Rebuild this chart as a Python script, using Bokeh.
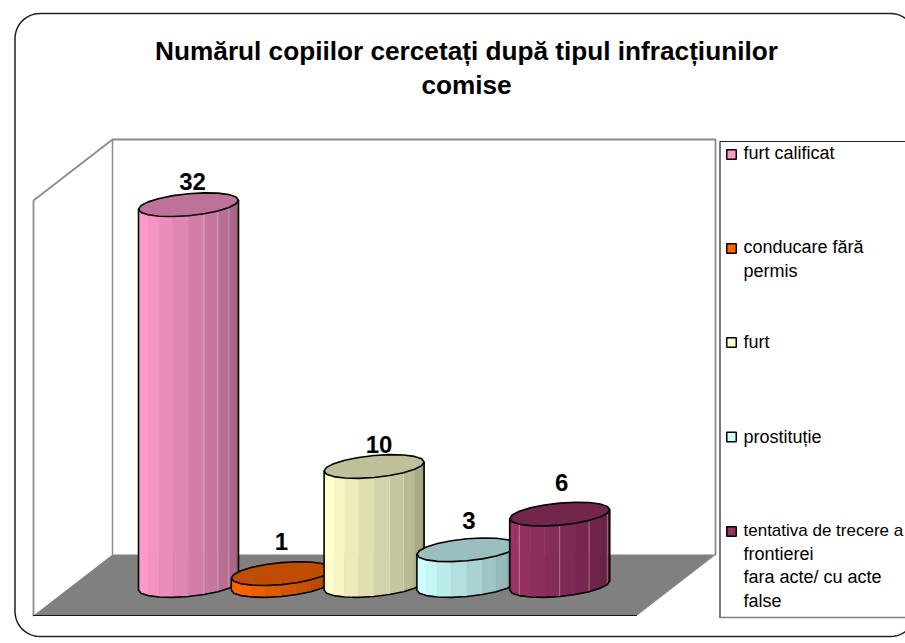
import math
from bokeh.plotting import figure
from bokeh.embed import file_html
from bokeh.resources import INLINE
from bokeh.core.properties import value

# ---- data ----
categories = ["furt calificat", "conducare fără permis", "furt", "prostituție",
              "tentativa de trecere a frontierei fara acte/ cu acte false"]
counts = [32, 1, 10, 3, 6]
count_labels = ["32", "1", "10", "3", "6"]
colors = ["#FF99CC", "#FF6600", "#FFFFCC", "#CCFFFF", "#993366"]
title_lines = ["Numărul copiilor cercetați după tipul infracțiunilor", "comise"]
legend_lines = [["furt calificat"], ["conducare fără", "permis"], ["furt"], ["prostituție"],
                ["tentativa de trecere a", "frontierei", "fara acte/ cu acte", "false"]]

# ---- layout: image pixels per data unit ----
W, H = 905, 643
PX_PER_CAT, PX_PER_VAL = 92.8, 11.9
X0_PX, Y0_PX = 188.0, 585.0        # pixel of category 0 / value 0
RX, RY, TILT = 50.0, 11.0, 4.5     # cylinder ellipse radii, in pixels
NSEG = 10
TXT = 0.36                         # svg text sits this many font sizes below its anchor
highlight_facets = [[6, 7, 8], [], [2, 6, 7], [], [2, 5, 7, 9]]


def X(px):
    return (px - X0_PX) / PX_PER_CAT


def Y(py):
    return (Y0_PX - py) / PX_PER_VAL


p = figure(width=W, height=H, output_backend="svg", toolbar_location=None,
           x_range=(X(0), X(W)), y_range=(Y(H), Y(0)),
           x_axis_type=None, y_axis_type=None, min_border=0,
           background_fill_color="white", border_fill_color="white")
p.outline_line_color = None
p.grid.visible = False

FONT = value("Liberation Sans")


def pline(xs, ys, color, width=1.0):
    p.line([X(a) for a in xs], [Y(b) for b in ys], line_color=color, line_width=width,
           line_join="round", line_cap="round")


def ppoly(xs, ys, fill):
    p.patch([X(a) for a in xs], [Y(b) for b in ys], fill_color=fill, line_color=None)


# ---- rounded frame ----
fl, ft, fr, fb, rad = 14.5, 13.0, 915.0, 636.0, 25.0


def arc(cx, cy, a0, a1, n=12):
    return [(cx + rad * math.cos(a0 + (a1 - a0) * k / n), cy - rad * math.sin(a0 + (a1 - a0) * k / n))
            for k in range(n + 1)]


pts = (arc(fl + rad, ft + rad, math.pi, math.pi / 2) + arc(fr - rad, ft + rad, math.pi / 2, 0)
       + arc(fr - rad, fb - rad, 0, -math.pi / 2) + arc(fl + rad, fb - rad, -math.pi / 2, -math.pi))
pts.append(pts[0])
pline([a for a, _ in pts], [b for _, b in pts], "#202020", 1.5)

# ---- walls and floor ----
WL, WB, WT, WR = 33.0, 615.0, 200.0, 112.0
BB, BT, BR, FR = 554.0, 139.0, 715.0, 636.0
ppoly([WL, WR, BR, FR], [WB, BB, BB, WB], "#808080")
pline([WL, WL, WR, BR, BR], [WB, WT, BT, BT, BB], "#8C8C8C", 1.8)
pline([WR, WR], [BT, BB], "#8C8C8C", 1.5)
pline([BR, FR], [BB, WB], "#8C8C8C", 1.0)
pline([WL, FR], [WB, WB], "#1A1A1A", 1.2)


# ---- cylinders ----
def shade(hexcol, f):
    r, g, b = [int(hexcol[k:k + 2], 16) for k in (1, 3, 5)]
    return "#%02X%02X%02X" % (int(r * f), int(g * f), int(b * f))


def rim(i, v, t):
    """Point of the rim at angle t (category, value coordinates)."""
    return (i + RX * math.cos(t) / PX_PER_CAT,
            v + (RY * math.sin(t) + TILT * math.cos(t)) / PX_PER_VAL)


for i, (v, c) in enumerate(zip(counts, colors)):
    ang = [math.pi + k * math.pi / NSEG for k in range(NSEG + 1)]   # front half, left to right
    sx, sy, sc = [], [], []
    for k in range(NSEG):
        a, b = rim(i, 0, ang[k]), rim(i, 0, ang[k + 1])
        at, bt = rim(i, v, ang[k]), rim(i, v, ang[k + 1])
        sx.append([a[0], b[0], bt[0], at[0]])
        sy.append([a[1], b[1], bt[1], at[1]])
        sc.append(shade(c, 1.0 - 0.38 * (max(k - 1, 0) / (NSEG - 2)) ** 1.15))
    p.patches(sx, sy, fill_color=sc, line_color=sc, line_width=0.6)
    for k in highlight_facets[i]:
        a, at = rim(i, 0, ang[k]), rim(i, v, ang[k])
        p.line([a[0], at[0]], [a[1], at[1]], line_color="white", line_alpha=0.35, line_width=1)
    full = [2 * math.pi * k / (2 * NSEG) for k in range(2 * NSEG)]
    top = [rim(i, v, t) for t in full]
    p.patch([q[0] for q in top], [q[1] for q in top], fill_color=shade(c, 0.75),
            line_color="black", line_width=1.6, line_join="round")
    low = [rim(i, 0, t) for t in ang]
    left_t, right_t = rim(i, v, math.pi), rim(i, v, 2 * math.pi)
    p.line([left_t[0]] + [q[0] for q in low] + [right_t[0]],
           [left_t[1]] + [q[1] for q in low] + [right_t[1]],
           line_color="black", line_width=1.6, line_join="round")

# ---- value labels ----
LABEL_SIZE, TITLE_SIZE, LEGEND_SIZE = 24.0, 26.2, 18.0
label_dx = [4, 0, 5, 2, 2]
label_dy = [d - TXT * LABEL_SIZE for d in (-15, -23, -13, -21, -23)]
p.text(x=list(range(len(counts))), y=counts, text=count_labels,
       x_offset=label_dx, y_offset=label_dy,
       text_font=FONT, text_font_style="bold", text_font_size=f"{LABEL_SIZE}px", text_color="black",
       text_align="center", text_baseline="alphabetic")

# ---- title ----
p.text(x=[X(466)] * 2, y=[Y(59.5 - TXT * TITLE_SIZE), Y(93.5 - TXT * TITLE_SIZE)], text=title_lines,
       text_font=FONT, text_font_style="bold",
       text_font_size=f"{TITLE_SIZE}px", text_color="black", text_align="center", text_baseline="alphabetic")

# ---- legend ----
LL, LT, LB = 719.5, 141.0, 617.0
pline([920, LL, LL], [LT, LT, LB], "#202020", 1.2)
pline([LL, 920], [LB, LB], "#808080", 1.6)
marker_y = [154, 248, 342, 436.5, 531]
first_base = [159, 253, 348, 443, 536]
p.scatter([X(731)] * 5, [Y(m) for m in marker_y], marker="square", size=9.5, fill_color=colors,
          line_color="black", line_width=1.5)
tx, ty, tt, ts = [], [], [], []
for base, lines in zip(first_base, legend_lines):
    for n, s in enumerate(lines):
        tx.append(X(743))
        ty.append(Y(base + 23.5 * n - TXT * LEGEND_SIZE))
        tt.append(s)
        ts.append("17px" if s.startswith("tentativa") else f"{LEGEND_SIZE}px")
for size in sorted(set(ts)):
    keep = [k for k, z in enumerate(ts) if z == size]
    p.text(x=[tx[k] for k in keep], y=[ty[k] for k in keep], text=[tt[k] for k in keep],
           text_font=FONT, text_font_size=size, text_color="black",
           text_align="left", text_baseline="alphabetic")

open("out.html", "w").write(file_html(p, INLINE))
